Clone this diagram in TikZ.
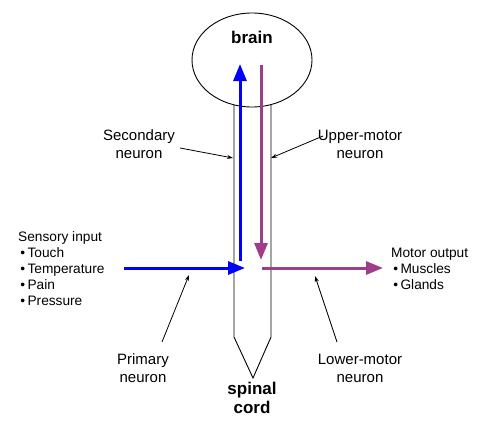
\documentclass[tikz,border=0pt]{standalone}
\usepackage{fontspec}
\setmainfont{Liberation Sans}
\usetikzlibrary{arrows.meta,shapes.geometric}
\definecolor{nblue}{RGB}{0,0,255}
\definecolor{npurple}{RGB}{158,62,138}
\begin{document}
\begin{tikzpicture}[x=1pt,y=-1pt,
  thick arrow/.style={line width=3pt,-{Triangle[length=17pt,width=13pt]}},
  pointer/.style={line width=0.8pt,-{Stealth[length=6pt,width=4pt]}},
  lbl/.style={font=\fontsize{15}{18}\selectfont,align=center,inner sep=0pt},
  lst/.style={font=\fontsize{13.7}{16}\selectfont,align=left,inner sep=0pt,anchor=north west},
  bold lbl/.style={font=\fontsize{17}{19.5}\selectfont\bfseries,align=center,inner sep=0pt}]
\useasboundingbox (0,0) rectangle (492,436);
% spinal cord
\coordinate (cl) at (234,100);
\coordinate (cr) at (271,100);
\coordinate (bl) at (234,337);
\coordinate (br) at (271,337);
\coordinate (tip) at (253,378);
\draw[line width=0.9pt] (cl) -- (bl) -- (tip) -- (br) -- (cr);
% brain
\node[draw,line width=0.9pt,fill=white,ellipse,minimum width=120pt,minimum height=94pt,inner sep=0pt] (brainshape) at (252,60) {};
\node[bold lbl] (brain) at (252,37) {brain};
% neuron arrows
\coordinate (bs) at (240,261);
\coordinate (be) at (240,64);
\draw[thick arrow,nblue] (bs) -- (be);
\coordinate (ps) at (261,65);
\coordinate (pe) at (261,260);
\draw[thick arrow,npurple] (ps) -- (pe);
\coordinate (hs) at (124,268);
\coordinate (he) at (245,268);
\draw[thick arrow,nblue] (hs) -- (he);
\coordinate (ms) at (262,268);
\coordinate (me) at (383,268);
\draw[thick arrow,npurple] (ms) -- (me);
% labels
\node[lbl] (sec) at (139,144) {Secondary\\neuron};
\node[lbl] (upm) at (360,144) {Upper-motor\\neuron};
\node[lbl] (pri) at (143,368) {Primary\\neuron};
\node[lbl] (lom) at (360,368) {Lower-motor\\neuron};
\node[bold lbl] (cord) at (252,398) {spinal\\cord};
\coordinate (secs) at (180,148);
\coordinate (sece) at (233,158);
\draw[pointer] (secs) -- (sece);
\coordinate (upms) at (323,136);
\coordinate (upme) at (271,158);
\draw[pointer] (upms) -- (upme);
\coordinate (pris) at (162,342);
\coordinate (prie) at (189,275);
\draw[pointer] (pris) -- (prie);
\coordinate (loms) at (337,342);
\coordinate (lome) at (315,276);
\draw[pointer] (loms) -- (lome);
% lists
\node[lst] (sens) at (18,231) {Sensory input\\
\,\textbullet\,Touch\\
\,\textbullet\,Temperature\\
\,\textbullet\,Pain\\
\,\textbullet\,Pressure};
\node[lst] (mot) at (391,248) {Motor output\\
\,\textbullet\,Muscles\\
\,\textbullet\,Glands};
\end{tikzpicture}
\end{document}
